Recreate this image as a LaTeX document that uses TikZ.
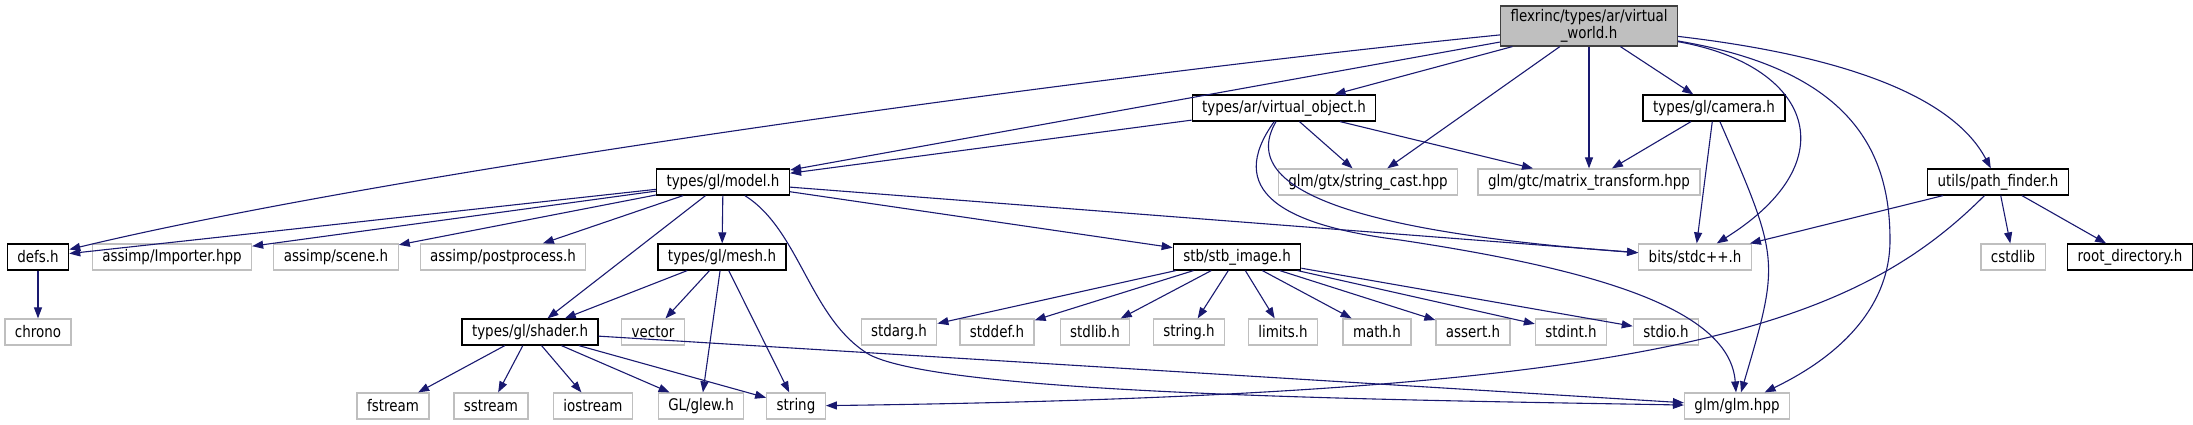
\documentclass[tikz,border=0pt]{standalone}
\usepackage{fontspec}
\usetikzlibrary{arrows.meta}
\newfontfamily\dxfont[FakeStretch=0.84]{DejaVu Sans}
\definecolor{edgeblue}{HTML}{191970}
\definecolor{extgray}{HTML}{BFBFBF}
\definecolor{mainborder}{HTML}{404040}
\tikzset{
  box/.style={rectangle, minimum height=26pt, inner xsep=10pt, inner ysep=2pt,
    line width=1.2pt, fill=white, font=\dxfont\fontsize{16}{17}\selectfont},
  doc/.style={box, draw=black},
  ext/.style={box, draw=extgray},
  top/.style={box, draw=mainborder, fill=extgray, align=center, minimum height=40pt},
  inc/.style={draw=edgeblue, line width=1.1pt, -{Triangle[length=11pt,width=8pt]}}
}

\begin{document}
\begin{tikzpicture}[x=1pt, y=-1pt]
  \useasboundingbox (0,0) rectangle (2193,425);

  % rows of the include graph
  \node[top] (main)    at (1589,26)  {flexrinc/types/ar/virtual\\\_world.h};

  \node[doc] (vobj)    at (1284,108) {types/ar/virtual\_object.h};
  \node[doc] (camera)  at (1714,108) {types/gl/camera.h};

  \node[doc] (model)   at (723,182)  {types/gl/model.h};
  \node[ext] (strcast) at (1368,182) {glm/gtx/string\_cast.hpp};
  \node[ext] (matrix)  at (1589,182) {glm/gtc/matrix\_transform.hpp};
  \node[doc] (pathf)   at (1998,182) {utils/path\_finder.h};

  \node[doc] (defs)     at (38,257)   {defs.h};
  \node[ext] (importer) at (172,257)  {assimp/Importer.hpp};
  \node[ext] (scene)    at (336,257)  {assimp/scene.h};
  \node[ext] (postproc) at (503,257)  {assimp/postprocess.h};
  \node[doc] (mesh)     at (722,257)  {types/gl/mesh.h};
  \node[doc] (stbimg)   at (1237,257) {stb/stb\_image.h};
  \node[ext] (bits)     at (1695,257) {bits/stdc++.h};
  \node[ext] (cstdlib)  at (2013,257) {cstdlib};
  \node[doc] (rootdir)  at (2130,257) {root\_directory.h};

  \node[ext] (chrono)  at (38,332)   {chrono};
  \node[doc] (shader)  at (530,332)  {types/gl/shader.h};
  \node[ext] (vector)  at (653,332)  {vector};
  \node[ext] (stdarg)  at (899,332)  {stdarg.h};
  \node[ext] (stddef)  at (997,332)  {stddef.h};
  \node[ext] (stdlib)  at (1095,332) {stdlib.h};
  \node[ext] (stringh) at (1189,332) {string.h};
  \node[ext] (limits)  at (1283,332) {limits.h};
  \node[ext] (mathh)   at (1377,332) {math.h};
  \node[ext] (assert)  at (1473,332) {assert.h};
  \node[ext] (stdint)  at (1571,332) {stdint.h};
  \node[ext] (stdio)   at (1666,332) {stdio.h};

  \node[ext] (fstream)  at (393,406)  {fstream};
  \node[ext] (sstream)  at (491,406)  {sstream};
  \node[ext] (iostream) at (593,406)  {iostream};
  \node[ext] (glew)     at (701,406)  {GL/glew.h};
  \node[ext] (string)   at (796,406)  {string};
  \node[ext] (glm)      at (1737,406) {glm/glm.hpp};

  % virtual_world.h
  \draw[inc] (main) .. controls (1100,75) and (400,170) .. (defs);
  \draw[inc] (main) -- (model);
  \draw[inc] (main) -- (vobj);
  \draw[inc] (main) -- (strcast);
  \draw[inc] (main) -- (matrix);
  \draw[inc] (main) -- (camera);
  \draw[inc] (main) .. controls (1810,65) and (1850,160) .. (bits);
  \draw[inc] (main) .. controls (1850,70) and (1890,150) .. (1890,240)
                    .. controls (1890,330) and (1800,375) .. (glm);
  \draw[inc] (main) .. controls (1880,60) and (1960,110) .. (pathf);

  % virtual_object.h
  \draw[inc] (vobj) -- (model);
  \draw[inc] (vobj) -- (strcast);
  \draw[inc] (vobj) -- (matrix);
  \draw[inc] (vobj) .. controls (1230,200) and (1400,235) .. (bits);
  \draw[inc] (vobj) .. controls (1225,190) and (1280,225) .. (1400,240)
                    .. controls (1600,270) and (1730,310) .. (glm);

  % camera.h
  \draw[inc] (camera) -- (matrix);
  \draw[inc] (camera) -- (bits);
  \draw[inc] (camera) .. controls (1780,260) .. (glm);

  % model.h
  \draw[inc] (model) -- (defs);
  \draw[inc] (model) -- (importer);
  \draw[inc] (model) -- (scene);
  \draw[inc] (model) -- (postproc);
  \draw[inc] (model) -- (shader);
  \draw[inc] (model) -- (mesh);
  \draw[inc] (model) -- (stbimg);
  \draw[inc] (model) -- (bits);
  \draw[inc] (model) .. controls (800,230) and (810,320) .. (870,355)
                     .. controls (950,395) and (1400,400) .. (glm);

  \draw[inc] (defs) -- (chrono);

  % mesh.h, shader.h
  \foreach \t in {shader, vector, glew, string}
    \draw[inc] (mesh) -- (\t);
  \foreach \t in {fstream, sstream, iostream, glew, string, glm}
    \draw[inc] (shader) -- (\t);

  % stb_image.h
  \foreach \t in {stdarg, stddef, stdlib, stringh, limits, mathh, assert, stdint, stdio}
    \draw[inc] (stbimg) -- (\t);

  % path_finder.h
  \draw[inc] (pathf) -- (bits);
  \draw[inc] (pathf) -- (cstdlib);
  \draw[inc] (pathf) -- (rootdir);
  \draw[inc] (pathf) .. controls (1850,330) and (1650,395) .. (string);
\end{tikzpicture}
\end{document}
